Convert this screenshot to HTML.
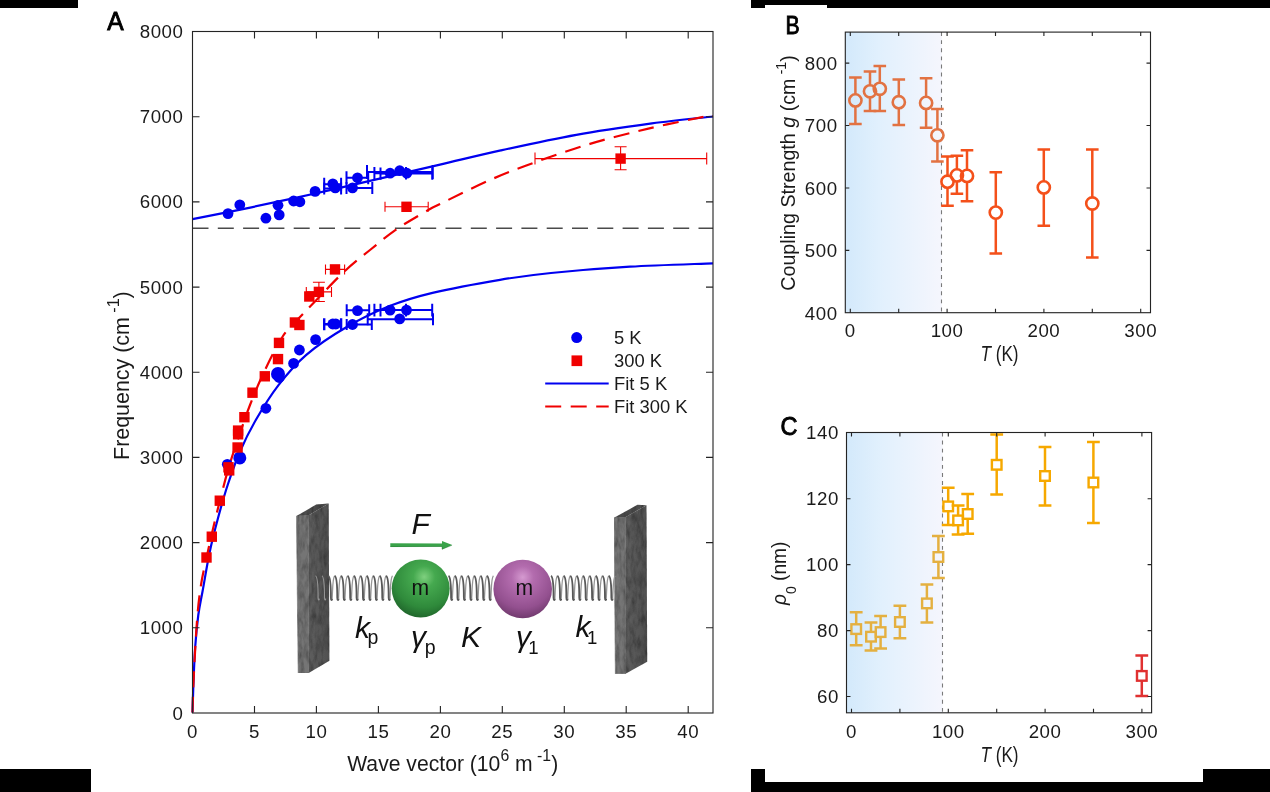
<!DOCTYPE html>
<html><head><meta charset="utf-8"><title>Figure</title>
<style>html,body{margin:0;padding:0;background:#fff;}body{width:1270px;height:792px;position:relative;overflow:hidden;font-family:"Liberation Sans",sans-serif;}</style></head>
<body>
<svg width="1270" height="792" viewBox="0 0 1270 792" style="position:absolute;left:0;top:0;font-family:'Liberation Sans', sans-serif">
<defs>
<linearGradient id="bg" x1="0" x2="1" y1="0" y2="0"><stop offset="0" stop-color="#d3e9fb"/><stop offset="0.35" stop-color="#e1f0fd"/><stop offset="1" stop-color="#f5f6fd"/></linearGradient>
<radialGradient id="gs" cx="0.56" cy="0.3" r="0.75"><stop offset="0" stop-color="#7fd07f"/><stop offset="0.25" stop-color="#45a94f"/><stop offset="0.7" stop-color="#2f8a3b"/><stop offset="1" stop-color="#1d5f28"/></radialGradient>
<radialGradient id="ps" cx="0.5" cy="0.3" r="0.75"><stop offset="0" stop-color="#d59ad0"/><stop offset="0.25" stop-color="#b36cae"/><stop offset="0.7" stop-color="#93508f"/><stop offset="1" stop-color="#683465"/></radialGradient>
<linearGradient id="wl" x1="0" x2="1"><stop offset="0" stop-color="#5e5e5e"/><stop offset="1" stop-color="#505050"/></linearGradient>
<filter id="tex" x="0" y="0" width="100%" height="100%"><feTurbulence type="fractalNoise" baseFrequency="0.25 0.08" numOctaves="3" seed="3" result="n"/><feColorMatrix in="n" type="matrix" values="0 0 0 0 0  0 0 0 0 0  0 0 0 0 0  0.7 0.7 0 0 -0.55" result="a"/><feComposite in="a" in2="SourceGraphic" operator="in" result="dark"/><feMerge><feMergeNode in="SourceGraphic"/><feMergeNode in="dark"/></feMerge></filter>
<filter id="idf" filterUnits="userSpaceOnUse" x="0" y="0" width="1270" height="792"><feOffset dx="0" dy="0"/></filter>
</defs>
<g filter="url(#idf)">
<rect width="1270" height="792" fill="#fff"/>
<g fill="#000">
<rect x="0" y="0" width="78" height="8"/>
<path d="M751,0H1270V8H827V5H765V8H751Z"/>
<rect x="0" y="769" width="91" height="23"/>
<path d="M751,769H765V782H1203V769H1270V792H751Z"/>
</g>
<g fill="none" stroke-linecap="butt">
<path d="M192.5,228.3H713.0" stroke="#4a4a4a" stroke-width="1.6" stroke-dasharray="16 9.3"/>
<path d="M192.5,712.5 C192.6,708.8 192.8,700.9 193.2,690.0 C193.6,679.1 194.3,659.5 195.2,647.0 C196.0,634.5 197.1,624.4 198.3,615.0 C199.6,605.6 200.8,600.8 202.7,590.5 C204.6,580.2 207.0,565.0 209.5,553.0 C212.0,541.0 214.8,530.0 217.9,518.5 C221.0,507.0 224.3,495.1 228.0,484.0 C231.7,472.9 235.2,462.7 239.8,452.0 C244.4,441.3 249.4,431.1 255.8,420.0 C262.2,408.9 270.1,396.0 278.5,385.1 C286.9,374.2 294.9,364.5 306.3,354.8 C317.7,345.1 332.8,335.1 346.7,327.0 C360.6,318.9 375.3,311.8 389.6,306.1 C403.9,300.4 414.1,297.3 432.5,292.9 C450.9,288.5 480.2,283.1 500.0,279.8 C519.8,276.5 529.3,275.2 551.0,273.0 C572.7,270.8 603.0,268.3 630.0,266.7 C657.0,265.1 699.2,263.9 713.0,263.3" stroke="#0000f0" stroke-width="2.2"/>
<path d="M192.5,219.2 C202.3,217.2 231.3,211.5 251.4,207.3 C271.4,203.1 292.3,198.6 312.8,194.0 C333.3,189.4 353.0,184.8 374.2,179.9 C395.4,175.0 418.9,169.5 440.0,164.6 C461.1,159.7 478.1,155.4 500.8,150.4 C523.5,145.4 551.1,139.3 576.3,134.8 C601.5,130.3 629.1,126.5 651.9,123.4 C674.7,120.4 702.8,117.7 713.0,116.5" stroke="#0000f0" stroke-width="2.2"/>
<path d="M192.5,712.5 C192.7,707.1 192.8,695.3 193.6,680.0 C194.3,664.7 195.8,636.6 197.0,620.8 C198.2,605.0 199.4,595.5 201.0,585.0 C202.6,574.5 204.6,567.0 206.5,558.0 C208.4,549.0 210.3,540.5 212.5,531.0 C214.7,521.5 217.2,511.2 219.8,501.0 C222.4,490.8 225.2,479.7 228.0,470.0 C230.8,460.3 233.1,453.5 236.8,442.7 C240.5,431.9 245.3,417.1 250.0,405.0 C254.7,392.9 259.5,381.5 265.0,370.0 C270.5,358.5 277.2,344.8 283.0,336.0 C288.8,327.2 294.4,323.0 300.0,317.0 C305.6,311.0 309.0,307.6 316.4,300.0 C323.8,292.4 335.2,280.0 344.1,271.7 C353.0,263.4 361.1,257.1 370.0,250.0 C378.9,242.8 387.4,235.5 397.2,228.8 C407.0,222.1 421.6,213.9 428.7,209.8 C435.8,205.7 429.8,209.0 440.0,204.0 C450.2,199.0 474.3,186.9 490.0,180.0 C505.7,173.1 517.7,168.5 534.4,162.5 C551.1,156.5 571.0,149.6 590.0,143.9 C609.0,138.2 629.3,133.1 648.3,128.6 C667.3,124.1 693.1,119.0 703.9,116.8 C714.7,114.6 711.5,115.7 713.0,115.5" stroke="#f00000" stroke-width="2.2" stroke-dasharray="16 9.3"/>
</g>
<path d="M324.2,184.2H341.1M324.2,177.7V190.7M341.1,177.7V190.7" stroke="#0000f0" stroke-width="2" fill="none"/>
<path d="M324.2,188.4H341.1M324.2,182.4V194.4M341.1,182.4V194.4" stroke="#0000f0" stroke-width="2" fill="none"/>
<path d="M346.5,188.1H372.3M346.5,182.1V194.1M372.3,182.1V194.1" stroke="#0000f0" stroke-width="2" fill="none"/>
<path d="M346.5,177.8H368.2M346.5,171.3V184.3M368.2,171.3V184.3" stroke="#0000f0" stroke-width="2" fill="none"/>
<path d="M367.0,171.9H432.7M367.0,164.9V178.9M432.7,164.9V178.9" stroke="#0000f0" stroke-width="2" fill="none"/>
<path d="M374.4,173.3H406.0M374.4,167.1V179.5M406.0,167.1V179.5" stroke="#0000f0" stroke-width="2" fill="none"/>
<path d="M380.5,173.6H432.3M380.5,167.4V179.8M432.3,167.4V179.8" stroke="#0000f0" stroke-width="2" fill="none"/>
<path d="M346.7,310.3H369.2M346.7,304.3V316.3M369.2,304.3V316.3" stroke="#0000f0" stroke-width="2" fill="none"/>
<path d="M374.4,310.1H406.0M374.4,303.8V316.4M406.0,303.8V316.4" stroke="#0000f0" stroke-width="2" fill="none"/>
<path d="M380.5,310.1H432.2M380.5,303.8V316.4M432.2,303.8V316.4" stroke="#0000f0" stroke-width="2" fill="none"/>
<path d="M367.7,319.2H433.0M367.7,313.2V325.2M433.0,313.2V325.2" stroke="#0000f0" stroke-width="2" fill="none"/>
<path d="M324.2,324.3H341.1M324.2,318.3V330.3M341.1,318.3V330.3" stroke="#0000f0" stroke-width="2.4" fill="none"/>
<path d="M346.7,324.6H371.8M346.7,319.1V330.1M371.8,319.1V330.1" stroke="#0000f0" stroke-width="2" fill="none"/>
<circle cx="228.0" cy="213.6" r="5.4" fill="#0000f0"/>
<circle cx="239.8" cy="204.8" r="5.4" fill="#0000f0"/>
<circle cx="265.9" cy="218.2" r="5.4" fill="#0000f0"/>
<circle cx="279.2" cy="214.9" r="5.4" fill="#0000f0"/>
<circle cx="278.0" cy="205.3" r="5.4" fill="#0000f0"/>
<circle cx="293.6" cy="201.0" r="5.4" fill="#0000f0"/>
<circle cx="299.9" cy="201.8" r="5.4" fill="#0000f0"/>
<circle cx="315.1" cy="191.4" r="5.4" fill="#0000f0"/>
<circle cx="332.8" cy="183.8" r="5.4" fill="#0000f0"/>
<circle cx="335.3" cy="187.9" r="5.4" fill="#0000f0"/>
<circle cx="352.5" cy="187.9" r="5.4" fill="#0000f0"/>
<circle cx="357.5" cy="177.8" r="5.4" fill="#0000f0"/>
<circle cx="390.1" cy="173.2" r="5.4" fill="#0000f0"/>
<circle cx="399.7" cy="170.7" r="5.4" fill="#0000f0"/>
<circle cx="406.8" cy="173.2" r="5.4" fill="#0000f0"/>
<circle cx="357.5" cy="310.6" r="5.4" fill="#0000f0"/>
<circle cx="390.1" cy="310.1" r="5.4" fill="#0000f0"/>
<circle cx="406.5" cy="310.1" r="5.4" fill="#0000f0"/>
<circle cx="399.7" cy="318.9" r="5.4" fill="#0000f0"/>
<circle cx="332.8" cy="324" r="5.4" fill="#0000f0"/>
<circle cx="335.8" cy="324" r="5.4" fill="#0000f0"/>
<circle cx="352.5" cy="324.5" r="5.4" fill="#0000f0"/>
<circle cx="315.6" cy="339.6" r="5.4" fill="#0000f0"/>
<circle cx="299.4" cy="350" r="5.4" fill="#0000f0"/>
<circle cx="293.6" cy="363.4" r="5.4" fill="#0000f0"/>
<circle cx="279.2" cy="377.5" r="5.4" fill="#0000f0"/>
<circle cx="265.9" cy="408.3" r="5.4" fill="#0000f0"/>
<circle cx="227.3" cy="464.3" r="5.4" fill="#0000f0"/>
<circle cx="278" cy="374" r="7" fill="#0000f0"/>
<circle cx="239.8" cy="457.9" r="6.5" fill="#0000f0"/>
<path d="M385.0,206.8H428.2M385.0,201.8V211.8M428.2,201.8V211.8" stroke="#f00000" stroke-width="1.1" fill="none"/>
<path d="M325.5,269.4H344.6M325.5,264.4V274.4M344.6,264.4V274.4" stroke="#f00000" stroke-width="1.1" fill="none"/>
<path d="M306.3,291.9H331.5M306.3,286.9V296.9M331.5,286.9V296.9" stroke="#f00000" stroke-width="1.1" fill="none"/>
<path d="M318.9,282.3V301.5M312.9,282.3H324.9M312.9,301.5H324.9" stroke="#f00000" stroke-width="1.1" fill="none"/>
<path d="M535.0,158.6H706.7M535.0,152.6V164.6M706.7,152.6V164.6" stroke="#f00000" stroke-width="1.1" fill="none"/>
<path d="M620.6,146.7V169.7M614.6,146.7H626.6M614.6,169.7H626.6" stroke="#f00000" stroke-width="1.1" fill="none"/>
<rect x="401.3" y="201.6" width="10.4" height="10.4" fill="#f00000"/>
<rect x="329.8" y="264.2" width="10.4" height="10.4" fill="#f00000"/>
<rect x="313.7" y="286.7" width="10.4" height="10.4" fill="#f00000"/>
<rect x="304.1" y="291.3" width="10.4" height="10.4" fill="#f00000"/>
<rect x="289.7" y="317.3" width="10.4" height="10.4" fill="#f00000"/>
<rect x="294.2" y="319.8" width="10.4" height="10.4" fill="#f00000"/>
<rect x="273.8" y="337.7" width="10.4" height="10.4" fill="#f00000"/>
<rect x="272.8" y="353.9" width="10.4" height="10.4" fill="#f00000"/>
<rect x="259.6" y="371.1" width="10.4" height="10.4" fill="#f00000"/>
<rect x="247.3" y="387.5" width="10.4" height="10.4" fill="#f00000"/>
<rect x="239.2" y="412.0" width="10.4" height="10.4" fill="#f00000"/>
<rect x="232.9" y="425.4" width="10.4" height="10.4" fill="#f00000"/>
<rect x="232.9" y="429.1" width="10.4" height="10.4" fill="#f00000"/>
<rect x="232.4" y="442.3" width="10.4" height="10.4" fill="#f00000"/>
<rect x="223.3" y="462.1" width="10.4" height="10.4" fill="#f00000"/>
<rect x="224.0" y="465.2" width="10.4" height="10.4" fill="#f00000"/>
<rect x="214.6" y="495.5" width="10.4" height="10.4" fill="#f00000"/>
<rect x="206.6" y="531.5" width="10.4" height="10.4" fill="#f00000"/>
<rect x="201.3" y="552.3" width="10.4" height="10.4" fill="#f00000"/>
<rect x="615.4" y="153.4" width="10.4" height="10.4" fill="#f00000"/>
<rect x="192.5" y="31.5" width="520.5" height="681.5" fill="none" stroke="#242424" stroke-width="1.12"/>
<path d="M254.5,713.0v-7M254.5,31.5v7M316.4,713.0v-7M316.4,31.5v7M378.4,713.0v-7M378.4,31.5v7M440.4,713.0v-7M440.4,31.5v7M502.3,713.0v-7M502.3,31.5v7M564.3,713.0v-7M564.3,31.5v7M626.2,713.0v-7M626.2,31.5v7M688.2,713.0v-7M688.2,31.5v7M192.5,627.8h7M713.0,627.8h-7M192.5,542.6h7M713.0,542.6h-7M192.5,457.4h7M713.0,457.4h-7M192.5,372.2h7M713.0,372.2h-7M192.5,287.1h7M713.0,287.1h-7M192.5,201.9h7M713.0,201.9h-7M192.5,116.7h7M713.0,116.7h-7" stroke="#242424" stroke-width="1.12" fill="none"/>
<g fill="#1a1a1a" font-size="18.7" letter-spacing="0.55">
<text x="183.5" y="719.5" text-anchor="end">0</text>
<text x="183.5" y="634.3" text-anchor="end">1000</text>
<text x="183.5" y="549.1" text-anchor="end">2000</text>
<text x="183.5" y="463.9" text-anchor="end">3000</text>
<text x="183.5" y="378.8" text-anchor="end">4000</text>
<text x="183.5" y="293.6" text-anchor="end">5000</text>
<text x="183.5" y="208.4" text-anchor="end">6000</text>
<text x="183.5" y="123.2" text-anchor="end">7000</text>
<text x="183.5" y="38.0" text-anchor="end">8000</text>
<text x="192.5" y="738.2" text-anchor="middle">0</text>
<text x="254.5" y="738.2" text-anchor="middle">5</text>
<text x="316.4" y="738.2" text-anchor="middle">10</text>
<text x="378.4" y="738.2" text-anchor="middle">15</text>
<text x="440.4" y="738.2" text-anchor="middle">20</text>
<text x="502.3" y="738.2" text-anchor="middle">25</text>
<text x="564.3" y="738.2" text-anchor="middle">30</text>
<text x="626.2" y="738.2" text-anchor="middle">35</text>
<text x="688.2" y="738.2" text-anchor="middle">40</text>
</g>
<text id="xlabA" x="452.7" y="771.3" text-anchor="middle" font-size="21.4" textLength="211" lengthAdjust="spacingAndGlyphs" fill="#1a1a1a">Wave vector (10<tspan dy="-10" font-size="16">6</tspan><tspan dy="10"> m</tspan><tspan dy="-10" font-size="16"> -1</tspan><tspan dy="10">)</tspan></text>
<text id="ylabA" transform="translate(128.6,375.6) rotate(-90)" text-anchor="middle" font-size="21.4" textLength="168.6" lengthAdjust="spacingAndGlyphs" fill="#1a1a1a">Frequency (cm<tspan dy="-10" font-size="16"> -1</tspan><tspan dy="10">)</tspan></text>
<text x="107.2" y="29.8" font-size="25" fill="#000" stroke="#000" stroke-width="0.9" textLength="16.4" lengthAdjust="spacingAndGlyphs">A</text>
<circle cx="576.7" cy="337.6" r="5.5" fill="#0000f0"/>
<rect x="571.5" y="355.4" width="10.7" height="10.7" fill="#f00000"/>
<path d="M545.2,383.5H608.7" stroke="#0000f0" stroke-width="2.2"/>
<path d="M545.2,406.5H608.7" stroke="#f00000" stroke-width="2.2" stroke-dasharray="16 9.5"/>
<g fill="#1a1a1a" font-size="18.4">
<text x="614" y="343.7">5 K</text><text x="614" y="366.8">300 K</text><text x="614" y="389.9">Fit 5 K</text><text x="614" y="413">Fit 300 K</text></g>
<g filter="url(#tex)">
<path d="M296.5,516.1 L308.8,515.2 L308.6,673 L298.2,673Z" fill="#747474" stroke="#747474" stroke-width="0.6"/>
<path d="M308.8,515.2 L328.7,503.4 L329.4,660.8 L308.6,673Z" fill="url(#wl)"/>
<path d="M296.5,516.1 L316.2,504.6 L328.7,503.4 L308.8,515.2Z" fill="#4e4e4e"/>
</g>
<g filter="url(#tex)">
<path d="M614.1,517.8 L625.8,517 L625.5,673.8 L615.4,673.8Z" fill="#747474" stroke="#747474" stroke-width="0.6"/>
<path d="M625.8,517 L646.5,505.2 L647.2,661.7 L625.5,673.8Z" fill="url(#wl)"/>
<path d="M614.1,517.8 L637.5,504.8 L646.5,505.2 L625.8,517Z" fill="#4e4e4e"/>
</g>
<path d="M315.5,575.8 C317.7,576.8 318.1,584.2 318.1,597.6 C318.1,600.6 319.1,600.6 319.3,598.6" fill="none" stroke="#9c9c9c" stroke-width="1.1" opacity="0.9"/>
<path d="M321.9,575.8 C324.1,576.8 324.5,584.2 324.5,597.6 C324.5,600.6 325.5,600.6 325.7,598.6" fill="none" stroke="#9c9c9c" stroke-width="1.1" opacity="0.9"/>
<path d="M332.1,598.6 C332.7,590.2 332.5,577.8 334.7,575.8M338.5,598.6 C339.1,590.2 338.9,577.8 341.1,575.8M344.9,598.6 C345.5,590.2 345.3,577.8 347.6,575.8M351.4,598.6 C352.0,590.2 351.8,577.8 354.0,575.8M357.8,598.6 C358.4,590.2 358.2,577.8 360.4,575.8M364.2,598.6 C364.8,590.2 364.6,577.8 366.8,575.8M370.6,598.6 C371.2,590.2 371.0,577.8 373.2,575.8M377.0,598.6 C377.6,590.2 377.4,577.8 379.7,575.8M383.5,598.6 C384.1,590.2 383.9,577.8 386.1,575.8M389.9,598.6 C390.5,590.2 390.3,577.8 392.5,575.8" fill="none" stroke="#969696" stroke-width="1.3"/>
<path d="M328.3,575.8 C330.5,576.8 330.9,584.2 330.9,597.6 C330.9,600.6 331.9,600.6 332.1,598.6M334.7,575.8 C336.9,576.8 337.3,584.2 337.3,597.6 C337.3,600.6 338.3,600.6 338.5,598.6M341.1,575.8 C343.3,576.8 343.7,584.2 343.7,597.6 C343.7,600.6 344.7,600.6 344.9,598.6M347.6,575.8 C349.8,576.8 350.2,584.2 350.2,597.6 C350.2,600.6 351.2,600.6 351.4,598.6M354.0,575.8 C356.2,576.8 356.6,584.2 356.6,597.6 C356.6,600.6 357.6,600.6 357.8,598.6M360.4,575.8 C362.6,576.8 363.0,584.2 363.0,597.6 C363.0,600.6 364.0,600.6 364.2,598.6M366.8,575.8 C369.0,576.8 369.4,584.2 369.4,597.6 C369.4,600.6 370.4,600.6 370.6,598.6M373.2,575.8 C375.4,576.8 375.8,584.2 375.8,597.6 C375.8,600.6 376.8,600.6 377.0,598.6M379.7,575.8 C381.9,576.8 382.3,584.2 382.3,597.6 C382.3,600.6 383.3,600.6 383.5,598.6M386.1,575.8 C388.3,576.8 388.7,584.2 388.7,597.6 C388.7,600.6 389.7,600.6 389.9,598.6" fill="none" stroke="#585858" stroke-width="1.9"/>
<path d="M452.3,598.6 C452.9,590.2 452.7,577.8 454.9,575.8M458.7,598.6 C459.3,590.2 459.1,577.8 461.3,575.8M465.1,598.6 C465.7,590.2 465.5,577.8 467.8,575.8M471.6,598.6 C472.2,590.2 472.0,577.8 474.2,575.8M478.0,598.6 C478.6,590.2 478.4,577.8 480.6,575.8M484.4,598.6 C485.0,590.2 484.8,577.8 487.0,575.8M490.8,598.6 C491.4,590.2 491.2,577.8 493.4,575.8" fill="none" stroke="#969696" stroke-width="1.3"/>
<path d="M448.5,575.8 C450.7,576.8 451.1,584.2 451.1,597.6 C451.1,600.6 452.1,600.6 452.3,598.6M454.9,575.8 C457.1,576.8 457.5,584.2 457.5,597.6 C457.5,600.6 458.5,600.6 458.7,598.6M461.3,575.8 C463.5,576.8 463.9,584.2 463.9,597.6 C463.9,600.6 464.9,600.6 465.1,598.6M467.8,575.8 C470.0,576.8 470.4,584.2 470.4,597.6 C470.4,600.6 471.4,600.6 471.6,598.6M474.2,575.8 C476.4,576.8 476.8,584.2 476.8,597.6 C476.8,600.6 477.8,600.6 478.0,598.6M480.6,575.8 C482.8,576.8 483.2,584.2 483.2,597.6 C483.2,600.6 484.2,600.6 484.4,598.6M487.0,575.8 C489.2,576.8 489.6,584.2 489.6,597.6 C489.6,600.6 490.6,600.6 490.8,598.6" fill="none" stroke="#585858" stroke-width="1.9"/>
<path d="M554.8,598.6 C555.4,590.2 555.2,577.8 557.4,575.8M561.2,598.6 C561.8,590.2 561.6,577.8 563.8,575.8M567.6,598.6 C568.2,590.2 568.0,577.8 570.3,575.8M574.1,598.6 C574.7,590.2 574.5,577.8 576.7,575.8M580.5,598.6 C581.1,590.2 580.9,577.8 583.1,575.8M586.9,598.6 C587.5,590.2 587.3,577.8 589.5,575.8M593.3,598.6 C593.9,590.2 593.7,577.8 595.9,575.8M599.7,598.6 C600.3,590.2 600.1,577.8 602.4,575.8M606.2,598.6 C606.8,590.2 606.6,577.8 608.8,575.8M612.6,598.6 C613.2,590.2 613.0,577.8 615.2,575.8" fill="none" stroke="#969696" stroke-width="1.3"/>
<path d="M551.0,575.8 C553.2,576.8 553.6,584.2 553.6,597.6 C553.6,600.6 554.6,600.6 554.8,598.6M557.4,575.8 C559.6,576.8 560.0,584.2 560.0,597.6 C560.0,600.6 561.0,600.6 561.2,598.6M563.8,575.8 C566.0,576.8 566.4,584.2 566.4,597.6 C566.4,600.6 567.4,600.6 567.6,598.6M570.3,575.8 C572.5,576.8 572.9,584.2 572.9,597.6 C572.9,600.6 573.9,600.6 574.1,598.6M576.7,575.8 C578.9,576.8 579.3,584.2 579.3,597.6 C579.3,600.6 580.3,600.6 580.5,598.6M583.1,575.8 C585.3,576.8 585.7,584.2 585.7,597.6 C585.7,600.6 586.7,600.6 586.9,598.6M589.5,575.8 C591.7,576.8 592.1,584.2 592.1,597.6 C592.1,600.6 593.1,600.6 593.3,598.6M595.9,575.8 C598.1,576.8 598.5,584.2 598.5,597.6 C598.5,600.6 599.5,600.6 599.7,598.6M602.4,575.8 C604.6,576.8 605.0,584.2 605.0,597.6 C605.0,600.6 606.0,600.6 606.2,598.6M608.8,575.8 C611.0,576.8 611.4,584.2 611.4,597.6 C611.4,600.6 612.4,600.6 612.6,598.6" fill="none" stroke="#585858" stroke-width="1.9"/>
<circle cx="420.7" cy="588.5" r="29" fill="url(#gs)"/>
<circle cx="522.7" cy="589" r="29.3" fill="url(#ps)"/>
<text x="420.3" y="594.5" text-anchor="middle" font-size="22" fill="#111" textLength="17.6" lengthAdjust="spacingAndGlyphs">m</text>
<text x="524.3" y="594.8" text-anchor="middle" font-size="22" fill="#111" textLength="17.6" lengthAdjust="spacingAndGlyphs">m</text>
<path d="M390.3,543.2 L442,543.5 L442,540.9 L452.3,545.1 L442,549.4 L442,546.8 L390.3,547 Z" fill="#3aa34a"/>
<path d="M390.4,546.6 L442,546.5 L442,549.2 L452,545.3" fill="none" stroke="#1f6a2c" stroke-width="0.6" opacity="0.6"/>
<g fill="#111" font-style="italic" font-size="30">
<text x="411.5" y="534.4">F</text>
<text x="355" y="637.8">k</text>
<text x="461" y="646.6">K</text>
<text x="575.5" y="637.3">k</text>
<text x="411" y="646.5">γ</text>
<text x="516" y="646.5">γ</text>
</g>
<g fill="#111" font-size="19.5">
<text x="367.5" y="643.5">p</text>
<text x="424.7" y="653.5">p</text>
<text x="528.2" y="653.6" font-size="18.6">1</text>
<text x="587" y="643.5" font-size="18.6">1</text>
</g>
<rect x="845.3" y="32.1" width="96.5" height="280.59999999999997" fill="url(#bg)"/>
<path d="M941.5,32.1V312.7" stroke="#7a7a7a" stroke-width="1.1" stroke-dasharray="3.9 4.2" fill="none"/>
<path d="M855.4,77.4V94.4M855.4,106.4V124.1M849.1,77.4H861.7M849.1,124.1H861.7" stroke="#e27242" stroke-width="2.5" fill="none"/>
<path d="M870.0,71.4V85.3M870.0,97.3V111.0M863.7,71.4H876.3M863.7,111.0H876.3" stroke="#e27242" stroke-width="2.5" fill="none"/>
<path d="M879.8,66.1V82.8M879.8,94.8V111.0M873.5,66.1H886.1M873.5,111.0H886.1" stroke="#e27242" stroke-width="2.5" fill="none"/>
<path d="M898.8,79.4V96.2M898.8,108.2V124.9M892.5,79.4H905.1M892.5,124.9H905.1" stroke="#e27242" stroke-width="2.5" fill="none"/>
<path d="M926.1,78.2V96.9M926.1,108.9V127.7M919.8,78.2H932.4M919.8,127.7H932.4" stroke="#e27242" stroke-width="2.5" fill="none"/>
<path d="M937.4,109.0V129.3M937.4,141.3V161.5M931.1,109.0H943.7M931.1,161.5H943.7" stroke="#e27242" stroke-width="2.5" fill="none"/>
<path d="M947.5,156.5V175.7M947.5,187.7V205.7M941.2,156.5H953.8M941.2,205.7H953.8" stroke="#f4501a" stroke-width="2.5" fill="none"/>
<path d="M956.9,155.7V169.4M956.9,181.4V193.8M950.6,155.7H963.2M950.6,193.8H963.2" stroke="#f4501a" stroke-width="2.5" fill="none"/>
<path d="M967.0,150.2V169.9M967.0,181.9V201.2M960.7,150.2H973.3M960.7,201.2H973.3" stroke="#f4501a" stroke-width="2.5" fill="none"/>
<path d="M995.8,172.2V206.6M995.8,218.6V253.5M989.5,172.2H1002.1M989.5,253.5H1002.1" stroke="#f4501a" stroke-width="2.5" fill="none"/>
<path d="M1043.8,149.5V181.4M1043.8,193.4V225.8M1037.5,149.5H1050.1M1037.5,225.8H1050.1" stroke="#f4501a" stroke-width="2.5" fill="none"/>
<path d="M1092.3,149.5V197.5M1092.3,209.5V257.6M1086.0,149.5H1098.6M1086.0,257.6H1098.6" stroke="#f4501a" stroke-width="2.5" fill="none"/>
<circle cx="855.4" cy="100.4" r="6.1" fill="none" stroke="#e27242" stroke-width="2.6"/>
<circle cx="870" cy="91.3" r="6.1" fill="none" stroke="#e27242" stroke-width="2.6"/>
<circle cx="879.8" cy="88.8" r="6.1" fill="none" stroke="#e27242" stroke-width="2.6"/>
<circle cx="898.8" cy="102.2" r="6.1" fill="none" stroke="#e27242" stroke-width="2.6"/>
<circle cx="926.1" cy="102.9" r="6.1" fill="none" stroke="#e27242" stroke-width="2.6"/>
<circle cx="937.4" cy="135.3" r="6.1" fill="none" stroke="#e27242" stroke-width="2.6"/>
<circle cx="947.5" cy="181.7" r="6.1" fill="none" stroke="#f4501a" stroke-width="2.6"/>
<circle cx="956.9" cy="175.4" r="6.1" fill="none" stroke="#f4501a" stroke-width="2.6"/>
<circle cx="967" cy="175.9" r="6.1" fill="none" stroke="#f4501a" stroke-width="2.6"/>
<circle cx="995.8" cy="212.6" r="6.1" fill="none" stroke="#f4501a" stroke-width="2.6"/>
<circle cx="1043.8" cy="187.4" r="6.1" fill="none" stroke="#f4501a" stroke-width="2.6"/>
<circle cx="1092.3" cy="203.5" r="6.1" fill="none" stroke="#f4501a" stroke-width="2.6"/>
<rect x="845.3" y="32.1" width="305.2" height="280.59999999999997" fill="none" stroke="#242424" stroke-width="1.12"/>
<path d="M850.3,312.7v-4M850.3,32.1v4M898.7,312.7v-4M898.7,32.1v4M947.1,312.7v-4M947.1,32.1v4M995.5,312.7v-4M995.5,32.1v4M1043.9,312.7v-4M1043.9,32.1v4M1092.3,312.7v-4M1092.3,32.1v4M1140.7,312.7v-4M1140.7,32.1v4M845.3,250.4h4M1150.5,250.4h-4M845.3,188.0h4M1150.5,188.0h-4M845.3,125.5h4M1150.5,125.5h-4M845.3,63.1h4M1150.5,63.1h-4" stroke="#242424" stroke-width="1.12" fill="none"/>
<g fill="#1a1a1a" font-size="18.7" letter-spacing="0.55">
<text x="837.7" y="319.6" text-anchor="end">400</text>
<text x="837.7" y="257.1" text-anchor="end">500</text>
<text x="837.7" y="194.7" text-anchor="end">600</text>
<text x="837.7" y="132.2" text-anchor="end">700</text>
<text x="837.7" y="69.8" text-anchor="end">800</text>
<text x="850.3" y="336.9" text-anchor="middle">0</text>
<text x="947.1" y="336.9" text-anchor="middle">100</text>
<text x="1043.9" y="336.9" text-anchor="middle">200</text>
<text x="1140.7" y="336.9" text-anchor="middle">300</text>
</g>
<text id="xlabB" x="999.5" y="361.4" text-anchor="middle" font-size="21.2" textLength="38.2" lengthAdjust="spacingAndGlyphs" fill="#1a1a1a"><tspan font-style="italic">T</tspan> (K)</text>
<text id="ylabB" transform="translate(794.6,173) rotate(-90)" text-anchor="middle" font-size="20.6" textLength="235.5" lengthAdjust="spacingAndGlyphs" fill="#1a1a1a">Coupling Strength <tspan font-style="italic">g</tspan> (cm<tspan dy="-9" font-size="15"> -1</tspan><tspan dy="9">)</tspan></text>
<text x="785.6" y="34.3" font-size="25" fill="#000" stroke="#000" stroke-width="0.9" textLength="14.2" lengthAdjust="spacingAndGlyphs">B</text>
<rect x="846.5" y="432.5" width="96.0" height="280.3" fill="url(#bg)"/>
<path d="M942.5,432.5V712.8" stroke="#7a7a7a" stroke-width="1.1" stroke-dasharray="3.9 4.2" fill="none"/>
<clipPath id="cc"><rect x="826.5" y="432.5" width="345.0999999999999" height="300.29999999999995"/></clipPath>
<g clip-path="url(#cc)">
<path d="M856.2,612.3V624.3M856.2,633.9V645.3M849.8,612.3H862.6M849.8,645.3H862.6" stroke="#e4b040" stroke-width="2.5" fill="none"/>
<path d="M871.0,622.5V631.9M871.0,641.5V650.4M864.6,622.5H877.4M864.6,650.4H877.4" stroke="#e4b040" stroke-width="2.5" fill="none"/>
<path d="M880.6,615.9V627.3M880.6,636.9V648.4M874.2,615.9H887.0M874.2,648.4H887.0" stroke="#e4b040" stroke-width="2.5" fill="none"/>
<path d="M899.9,605.7V617.2M899.9,626.8V638.2M893.5,605.7H906.3M893.5,638.2H906.3" stroke="#e4b040" stroke-width="2.5" fill="none"/>
<path d="M926.9,584.5V598.6M926.9,608.2V622.5M920.5,584.5H933.3M920.5,622.5H933.3" stroke="#e4b040" stroke-width="2.5" fill="none"/>
<path d="M938.4,536.0V552.2M938.4,561.8V578.0M932.0,536.0H944.8M932.0,578.0H944.8" stroke="#e4b040" stroke-width="2.5" fill="none"/>
<path d="M948.2,487.8V501.6M948.2,511.2V524.9M941.8,487.8H954.6M941.8,524.9H954.6" stroke="#f6a800" stroke-width="2.5" fill="none"/>
<path d="M958.1,505.5V515.6M958.1,525.2V534.5M951.7,505.5H964.5M951.7,534.5H964.5" stroke="#f6a800" stroke-width="2.5" fill="none"/>
<path d="M967.7,494.1V509.2M967.7,518.8V533.7M961.3,494.1H974.1M961.3,533.7H974.1" stroke="#f6a800" stroke-width="2.5" fill="none"/>
<path d="M996.7,434.6V460.0M996.7,469.6V494.6M990.3,434.6H1003.1M990.3,494.6H1003.1" stroke="#f6a800" stroke-width="2.5" fill="none"/>
<path d="M1045.0,446.9V471.2M1045.0,480.8V505.6M1038.6,446.9H1051.4M1038.6,505.6H1051.4" stroke="#f6a800" stroke-width="2.5" fill="none"/>
<path d="M1093.4,442.0V477.7M1093.4,487.3V523.0M1087.0,442.0H1099.8M1087.0,523.0H1099.8" stroke="#f6a800" stroke-width="2.5" fill="none"/>
<path d="M1141.8,655.6V671.1M1141.8,680.7V696.1M1135.4,655.6H1148.2M1135.4,696.1H1148.2" stroke="#e03030" stroke-width="2.5" fill="none"/>
<rect x="851.4" y="624.3" width="9.6" height="9.6" fill="none" stroke="#e4b040" stroke-width="2.4"/>
<rect x="866.2" y="631.9" width="9.6" height="9.6" fill="none" stroke="#e4b040" stroke-width="2.4"/>
<rect x="875.8" y="627.3" width="9.6" height="9.6" fill="none" stroke="#e4b040" stroke-width="2.4"/>
<rect x="895.1" y="617.2" width="9.6" height="9.6" fill="none" stroke="#e4b040" stroke-width="2.4"/>
<rect x="922.1" y="598.6" width="9.6" height="9.6" fill="none" stroke="#e4b040" stroke-width="2.4"/>
<rect x="933.6" y="552.2" width="9.6" height="9.6" fill="none" stroke="#e4b040" stroke-width="2.4"/>
<rect x="943.4" y="501.6" width="9.6" height="9.6" fill="none" stroke="#f6a800" stroke-width="2.4"/>
<rect x="953.3" y="515.6" width="9.6" height="9.6" fill="none" stroke="#f6a800" stroke-width="2.4"/>
<rect x="962.9" y="509.2" width="9.6" height="9.6" fill="none" stroke="#f6a800" stroke-width="2.4"/>
<rect x="991.9" y="460.0" width="9.6" height="9.6" fill="none" stroke="#f6a800" stroke-width="2.4"/>
<rect x="1040.2" y="471.2" width="9.6" height="9.6" fill="none" stroke="#f6a800" stroke-width="2.4"/>
<rect x="1088.6" y="477.7" width="9.6" height="9.6" fill="none" stroke="#f6a800" stroke-width="2.4"/>
<rect x="1137.0" y="671.1" width="9.6" height="9.6" fill="none" stroke="#e03030" stroke-width="2.4"/>
</g>
<rect x="846.5" y="432.5" width="305.1" height="280.3" fill="none" stroke="#242424" stroke-width="1.12"/>
<path d="M851.5,712.8v-4M851.5,432.5v4M899.9,712.8v-4M899.9,432.5v4M948.3,712.8v-4M948.3,432.5v4M996.7,712.8v-4M996.7,432.5v4M1045.1,712.8v-4M1045.1,432.5v4M1093.5,712.8v-4M1093.5,432.5v4M1141.9,712.8v-4M1141.9,432.5v4M846.5,696.5h4M1151.6,696.5h-4M846.5,630.6h4M1151.6,630.6h-4M846.5,564.6h4M1151.6,564.6h-4M846.5,498.7h4M1151.6,498.7h-4" stroke="#242424" stroke-width="1.12" fill="none"/>
<g fill="#1a1a1a" font-size="18.7" letter-spacing="0.55">
<text x="838.9" y="703.2" text-anchor="end">60</text>
<text x="838.9" y="637.3" text-anchor="end">80</text>
<text x="838.9" y="571.3" text-anchor="end">100</text>
<text x="838.9" y="505.4" text-anchor="end">120</text>
<text x="838.9" y="439.4" text-anchor="end">140</text>
<text x="851.5" y="737.6" text-anchor="middle">0</text>
<text x="948.3" y="737.6" text-anchor="middle">100</text>
<text x="1045.1" y="737.6" text-anchor="middle">200</text>
<text x="1141.9" y="737.6" text-anchor="middle">300</text>
</g>
<text id="xlabC" x="999.5" y="761.5" text-anchor="middle" font-size="21.2" textLength="38.2" lengthAdjust="spacingAndGlyphs" fill="#1a1a1a"><tspan font-style="italic">T</tspan> (K)</text>
<text id="ylabC" transform="translate(785.7,573.3) rotate(-90)" text-anchor="middle" font-size="20.6" textLength="63.5" lengthAdjust="spacingAndGlyphs" fill="#1a1a1a"><tspan font-style="italic">ρ</tspan><tspan dy="10" font-size="15.2">0</tspan><tspan dy="-10"> (nm)</tspan></text>
<text x="780.6" y="435" font-size="25.5" fill="#000" stroke="#000" stroke-width="0.9" textLength="17" lengthAdjust="spacingAndGlyphs">C</text>
</g>
</svg>
</body></html>
